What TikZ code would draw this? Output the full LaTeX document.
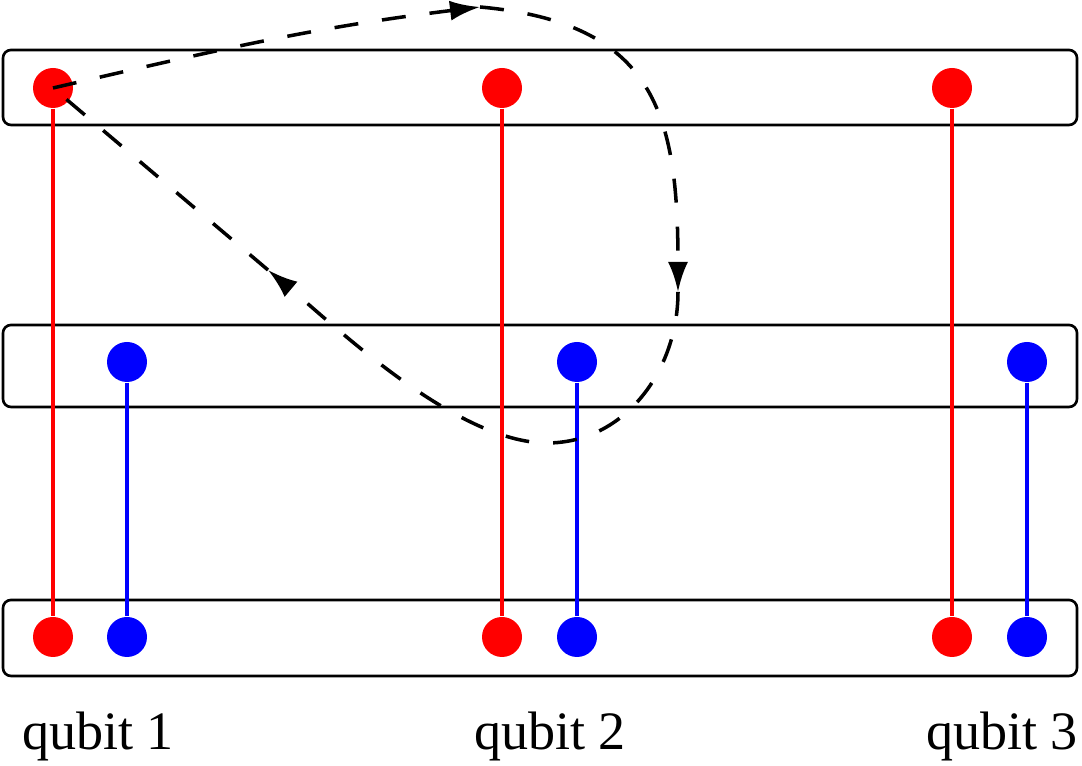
\documentclass[tikz,border=0pt]{standalone}
\usepackage{fontspec}
\setmainfont{Liberation Serif}
\usetikzlibrary{arrows.meta}
\tikzset{
  dotred/.style={circle,fill=red,inner sep=0pt,minimum size=0.4cm},
  dotblue/.style={circle,fill=blue,inner sep=0pt,minimum size=0.4cm},
  layerbox/.style={draw,line width=0.75pt,rounded corners=0.08cm},
  wirered/.style={draw=red,line width=1.3pt},
  wireblue/.style={draw=blue,line width=1.3pt},
  loopline/.style={dash pattern=on 0.24cm off 0.24cm,line width=1pt,-{Latex[length=0.3cm,width=0.2cm]}},
  qlabel/.style={anchor=base,font=\fontsize{15.4}{18}\selectfont}
}
\begin{document}
\begin{tikzpicture}
\useasboundingbox (0,0) rectangle (10.82,7.66);
\draw[layerbox] (0.03,6.41) rectangle (10.77,7.16);
  \draw[layerbox] (0.03,3.59) rectangle (10.77,4.41);
  \draw[layerbox] (0.03,0.90) rectangle (10.77,1.66);
  \node[dotred] (r1t) at (0.53,6.78) {};
  \node[dotred] (r1b) at (0.53,1.29) {};
  \node[dotblue] (b1m) at (1.27,4.04) {};
  \node[dotblue] (b1b) at (1.27,1.29) {};
  \draw[wirered] (r1t)--(r1b);
  \draw[wireblue] (b1m)--(b1b);
  \node[dotred] (r2t) at (5.02,6.78) {};
  \node[dotred] (r2b) at (5.02,1.29) {};
  \node[dotblue] (b2m) at (5.77,4.04) {};
  \node[dotblue] (b2b) at (5.77,1.29) {};
  \draw[wirered] (r2t)--(r2b);
  \draw[wireblue] (b2m)--(b2b);
  \node[dotred] (r3t) at (9.52,6.78) {};
  \node[dotred] (r3b) at (9.52,1.29) {};
  \node[dotblue] (b3m) at (10.27,4.04) {};
  \node[dotblue] (b3b) at (10.27,1.29) {};
  \draw[wirered] (r3t)--(r3b);
  \draw[wireblue] (b3m)--(b3b);
  \coordinate (toparrow) at (4.80,7.59);
  \coordinate (rightarrow) at (6.78,4.74);
  \coordinate (loopbottom) at (5.47,3.23);
  \coordinate (leftarrow) at (2.68,4.96);
  \draw[loopline] (r1t.center) to[out=13,in=187] (toparrow);
  \draw[loopline] (toparrow) .. controls (6.56,7.43) and (6.78,6.51) .. (rightarrow);
  \draw[loopline] (rightarrow) to[out=-90,in=0] (loopbottom) to[out=180,in=-40,looseness=0.7] (leftarrow);
  \draw[loopline,-] (leftarrow)--(r1t.center);
  \node[qlabel] (q1) at (0.98,0.16) {qubit 1};
  \node[qlabel] (q2) at (5.50,0.16) {qubit 2};
  \node[qlabel] (q3) at (10.02,0.16) {qubit 3};
\end{tikzpicture}
\end{document}
